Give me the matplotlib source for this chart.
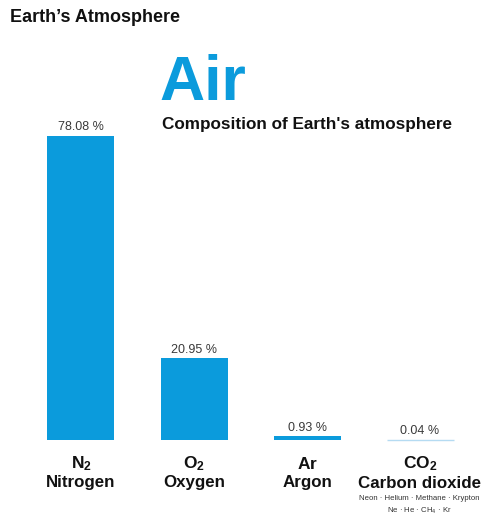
import numpy as np
import matplotlib.pyplot as plt

plt.rcParams['font.family'] = ['Liberation Sans', 'DejaVu Sans']
plt.rcParams['mathtext.fontset'] = 'custom'
plt.rcParams['mathtext.rm'] = 'Liberation Sans'
plt.rcParams['mathtext.bf'] = 'Liberation Sans:bold'

formulas = [r"$\mathbf{N_2}$", r"$\mathbf{O_2}$", r"$\mathbf{Ar}$", r"$\mathbf{CO_2}$"]
names = ["Nitrogen", "Oxygen", "Argon", "Carbon dioxide"]
values = [78.08, 20.95, 0.93, 0.04]
value_labels = ["78.08 %", "20.95 %", "0.93 %", "0.04 %"]

blue = "#0b9bdc"

W, H = 483, 518
fig = plt.figure(figsize=(W / 100, H / 100), dpi=100)
ax = fig.add_axes([0, 0, 1, 1])

# pixel layout: bar centres every 113 px starting at 81, baseline at y=440
step = 113.0
x0 = 81.0
base = 440.0
ppu = 304.0 / 78.08  # pixels per percent
ax.set_xlim(-x0 / step, (W - x0) / step)
ax.set_ylim(-(H - base) / ppu, base / ppu)
ax.axis("off")

xs = np.arange(len(values))
colors = [blue, blue, blue, "#b5dbf2"]
bars = ax.bar(xs, values, width=67 / step, color=colors, edgecolor=colors,
              linewidth=[0, 0, 0, 1.0])

for x, v, lab in zip(xs, values, value_labels):
    ax.annotate(lab, (x, v), xytext=(0, 2), textcoords="offset points",
                ha="center", va="bottom", fontsize=9, color="#3a3a3a")

def fy(py):
    return 1 - py / H

def fx(px):
    return px / W

for i, (f, n) in enumerate(zip(formulas, names)):
    cx = fx(x0 + i * step)
    if i == 3:
        cx = fx(420)
    fig.text(cx, fy(464), f, ha="center", va="center", fontsize=12.5, color="#111111")
    fig.text(cx, fy(483), n, ha="center", va="center", fontsize=12.2,
             fontweight="bold", color="#111111")

fig.text(fx(419), fy(498), "Neon · Helium · Methane · Krypton", ha="center",
         va="center", fontsize=5.6, color="#333333")
fig.text(fx(419), fy(511), r"Ne · He · CH$_4$ · Kr", ha="center",
         va="center", fontsize=5.6, color="#333333")

fig.text(fx(10), fy(18), "Earth’s Atmosphere", ha="left", va="center",
         fontsize=13, fontweight="bold", color="#111111")
fig.text(fx(159), fy(83), "Air", ha="left", va="center",
         fontsize=45, fontweight="bold", color=blue)
fig.text(fx(162), fy(124), "Composition of Earth's atmosphere", ha="left",
         va="center", fontsize=12.3, fontweight="bold", color="#111111")

fig.savefig("out.png", dpi=100)
